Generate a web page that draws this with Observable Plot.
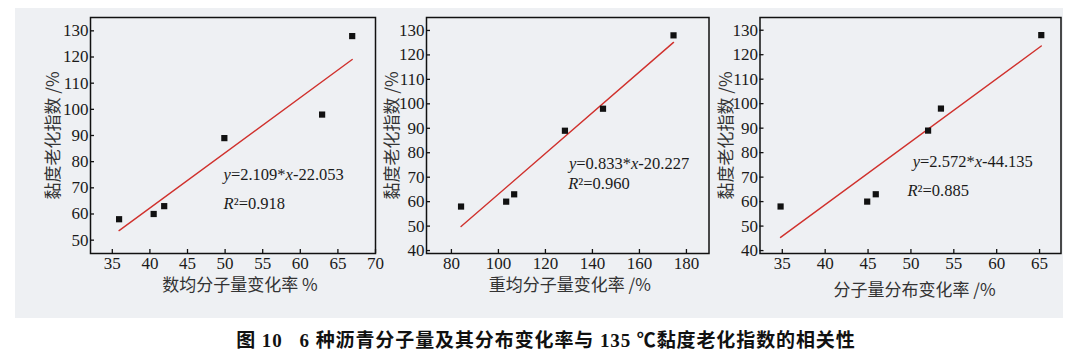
<!DOCTYPE html>
<html><head><meta charset="utf-8">
<script src="https://cdn.jsdelivr.net/npm/d3@7"></script>
<script src="https://cdn.jsdelivr.net/npm/@observablehq/plot@0.6"></script>
<style>
body{margin:0;background:#fff;}
#wrap{position:relative;width:1080px;height:355px;overflow:hidden;background:#fff;}
#bg{position:absolute;left:15px;top:8px;width:1048px;height:310px;background:#eef0f3;}
.panel{position:absolute;top:0;}
#caption{position:absolute;left:0;width:1092px;top:325px;text-align:center;font:bold 19px "Liberation Serif","Noto Sans CJK SC",serif;letter-spacing:0.9px;color:#111;white-space:pre;}
</style></head><body>
<div id="wrap"><div id="bg"></div><div id="caption"></div></div>
<script>
// ---- data ----
const viscosityIndex = [58, 60, 63, 89, 98, 128];           // 黏度老化指数 /%
const mnChange  = [35.9, 40.5, 41.9, 49.9, 62.9, 66.9];     // 数均分子量变化率 %
const mwChange  = [84.1, 103.3, 106.7, 128.3, 144.5, 174.5]; // 重均分子量变化率 /%
const mwdChange = [34.8, 44.9, 45.9, 52.0, 53.5, 65.2];     // 分子量分布变化率 /%
const slopes     = [2.109, 0.833, 2.572];
const intercepts = [-22.053, -20.227, -44.135];
const r2Values   = ["0.918", "0.960", "0.885"];
const xLabels = ["数均分子量变化率 %", "重均分子量变化率 /%", "分子量分布变化率 /%"];
const yLabel = "黏度老化指数 /%";
const xTicks = [[35,40,45,50,55,60,65,70],[80,100,120,140,160,180],[35,40,45,50,55,60,65]];
const yTicks = [[50,60,70,80,90,100,110,120,130],[40,50,60,70,80,90,100,110,120,130],[40,50,60,70,80,90,100,110,120,130]];
const captionText = "图 10   6 种沥青分子量及其分布变化率与 135 ℃黏度老化指数的相关性";

// ---- layout ----
const xDomains = [[32.1, 70], [69.4, 189.6], [32.4, 67.5]];
const yDomains = [[44.9, 135.1], [38.8, 135.3], [38.8, 135.2]];
const eqPos = [[49.8, 74.9], [130, 75.5], [50.2, 76.3]];
const r2Pos = [[49.8, 63.8], [129.7, 67.3], [49.6, 64.5]];
const layout = [
  {left: 0,   width: 380, ml: 90,   mr: 5,    xlabDx: 7, xlabDy: 32, ylabDx: -37},
  {left: 380, width: 340, ml: 46,   mr: 11.5, xlabDx: 2, xlabDy: 32, ylabDx: -34},
  {left: 720, width: 360, ml: 39.5, mr: 19.5, xlabDx: 4, xlabDy: 37, ylabDx: -33}
];
const H = 310, MT = 17, MB = 57;
const series = [mnChange, mwChange, mwdChange];

function fmtEq(i) {
  const b = intercepts[i];
  return `y=${slopes[i].toFixed(3)}*x${b < 0 ? "-" : "+"}${Math.abs(b).toFixed(3)}`;
}

function styleMath(svg) {
  d3.select(svg).selectAll("text").each(function() {
    const s = this.textContent;
    if (!(s.startsWith("y=") || s.startsWith("R²="))) return;
    const el = d3.select(this);
    el.text(null);
    s.split(/(y|x|R)/).filter(p => p.length).forEach(p => {
      const t = el.append("tspan").text(p);
      if (p === "y" || p === "x" || p === "R") t.attr("font-style", "italic");
    });
  });
}

function panel(i) {
  const xs = series[i];
  const L = layout[i];
  const pts = xs.map((x, j) => ({x, y: viscosityIndex[j]}));
  const ext = d3.extent(xs);
  const fit = ext.map(x => ({x, y: slopes[i] * x + intercepts[i]}));
  const innerH = H - MT - MB, innerW = L.width - L.ml - L.mr;
  const svg = Plot.plot({
    width: L.width, height: H,
    marginLeft: L.ml, marginRight: L.mr, marginTop: MT, marginBottom: MB,
    style: {background: "transparent", fontFamily: "'Liberation Serif', 'Times New Roman', serif", fontSize: "17px", color: "#1a1a1a", overflow: "visible"},
    x: {domain: xDomains[i]},
    y: {domain: yDomains[i]},
    marks: [
      Plot.axisX({ticks: xTicks[i], tickSize: 0, tickPadding: 3, label: null, fontSize: 17}),
      Plot.axisY({ticks: yTicks[i], tickSize: 0, tickPadding: 2, label: null, fontSize: 17}),
      Plot.tickX(xTicks[i], {x: d => d, insetTop: innerH - 4, stroke: "#111", strokeWidth: 1.3}),
      Plot.tickY(yTicks[i], {y: d => d, insetRight: innerW - 4, stroke: "#111", strokeWidth: 1.3}),
      Plot.line(fit, {x: "x", y: "y", stroke: "#d0312d", strokeWidth: 1.4}),
      Plot.dot(pts, {x: "x", y: "y", symbol: "square", r: 3.5, fill: "#111", stroke: "none"}),
      Plot.text([{x: eqPos[i][0], y: eqPos[i][1], t: fmtEq(i)}], {x: "x", y: "y", text: "t", textAnchor: "start", fontSize: 16.5, fill: "#1a1a1a"}),
      Plot.text([{x: r2Pos[i][0], y: r2Pos[i][1], t: `R²=${r2Values[i]}`}], {x: "x", y: "y", text: "t", textAnchor: "start", fontSize: 16.5, fill: "#1a1a1a"}),
      Plot.frame({stroke: "#111", strokeWidth: 1.5}),
      Plot.text([xLabels[i]], {frameAnchor: "bottom", textAnchor: "middle", lineAnchor: "middle", dx: L.xlabDx, dy: L.xlabDy, fontFamily: "'Noto Sans CJK SC', sans-serif", fontSize: 17, fill: "#333"}),
      Plot.text([yLabel], {frameAnchor: "left", textAnchor: "middle", lineAnchor: "middle", rotate: -90, dx: L.ylabDx, fontFamily: "'Noto Sans CJK SC', sans-serif", fontSize: 17, fill: "#333"})
    ]
  });
  styleMath(svg);
  svg.classList.add("panel");
  svg.style.left = L.left + "px";
  return svg;
}

const wrap = document.getElementById("wrap");
[0, 1, 2].forEach(i => wrap.appendChild(panel(i)));
document.getElementById("caption").textContent = captionText;
</script>
</body></html>
